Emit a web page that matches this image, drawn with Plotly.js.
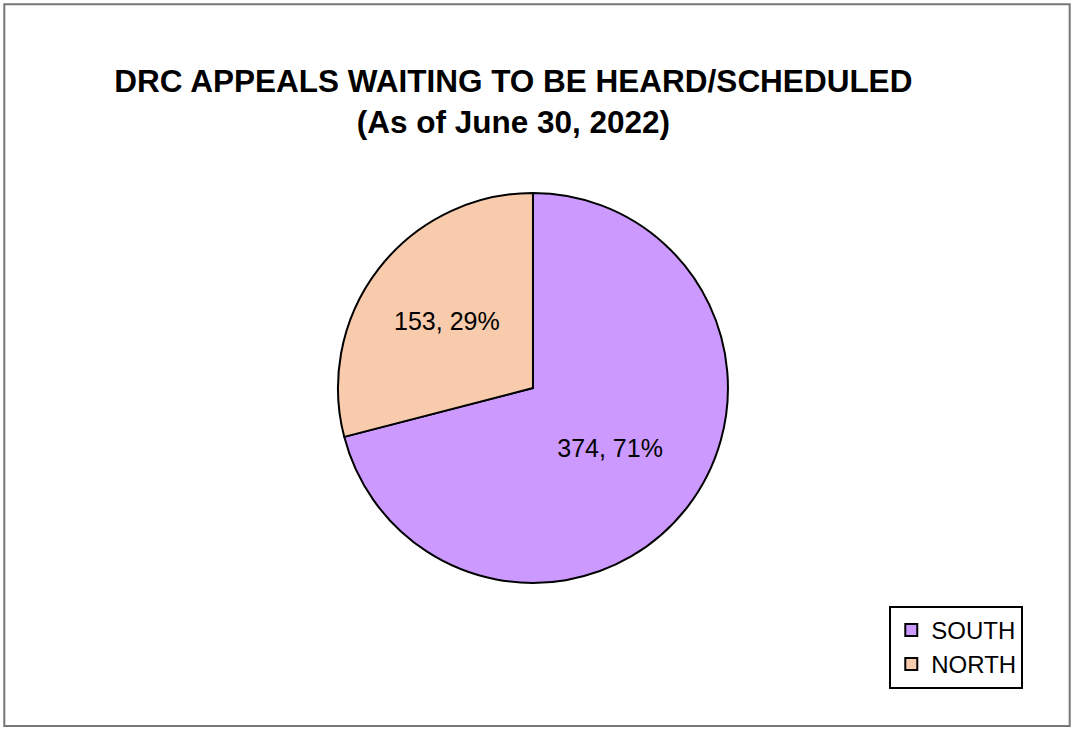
<!DOCTYPE html>
<html>
<head>
<meta charset="utf-8">
<script src="https://cdn.plot.ly/plotly-3.0.1.min.js"></script>
<style>html,body{margin:0;padding:0;background:#fff;}#chart{width:1074px;height:729px;}</style>
</head>
<body>
<div id="chart"></div>
<script>
const regions = ["SOUTH", "NORTH"];
const appeals = [374, 153];
const sliceColors = ["#CC99FF", "#F8CBAD"];
const chartTitle = "DRC APPEALS WAITING TO BE HEARD/SCHEDULED<br>(As of June 30, 2022)";

const trace = {
  type: "pie",
  labels: regions,
  values: appeals,
  sort: false,
  direction: "clockwise",
  rotation: 0,
  marker: {colors: sliceColors, line: {color: "#000", width: 2}},
  texttemplate: "%{value}, %{percent}",
  textposition: "inside",
  insidetextorientation: "horizontal",
  textfont: {family: "Arial, Liberation Sans, sans-serif", size: 25, color: "#000"},
  hoverinfo: "label+value+percent",
  domain: {x: [0.3147, 0.6778], y: [0.2003, 0.7353]}
};

const layout = {
  width: 1074, height: 729,
  margin: {l: 0, r: 0, t: 0, b: 0},
  paper_bgcolor: "#fff",
  title: {
    text: chartTitle,
    font: {family: "Arial, Liberation Sans, sans-serif", size: 31.5, color: "#000", weight: "bold"},
    x: 0.478, xanchor: "center", y: 0.874, yanchor: "middle"
  },
  showlegend: true,
  legend: {
    x: 0.828, xanchor: "left", y: 0.169, yanchor: "top",
    bordercolor: "#000", borderwidth: 2, bgcolor: "#fff",
    font: {family: "Arial, Liberation Sans, sans-serif", size: 24, color: "#000"},
    itemwidth: 30, traceorder: "normal"
  },
  shapes: [{
    type: "rect", xref: "paper", yref: "paper",
    x0: 0.004, x1: 0.996, y0: 0.004, y1: 0.994,
    line: {color: "#777", width: 2}
  }]
};

Plotly.newPlot("chart", [trace], layout, {displayModeBar: false, staticPlot: true});
</script>
</body>
</html>
